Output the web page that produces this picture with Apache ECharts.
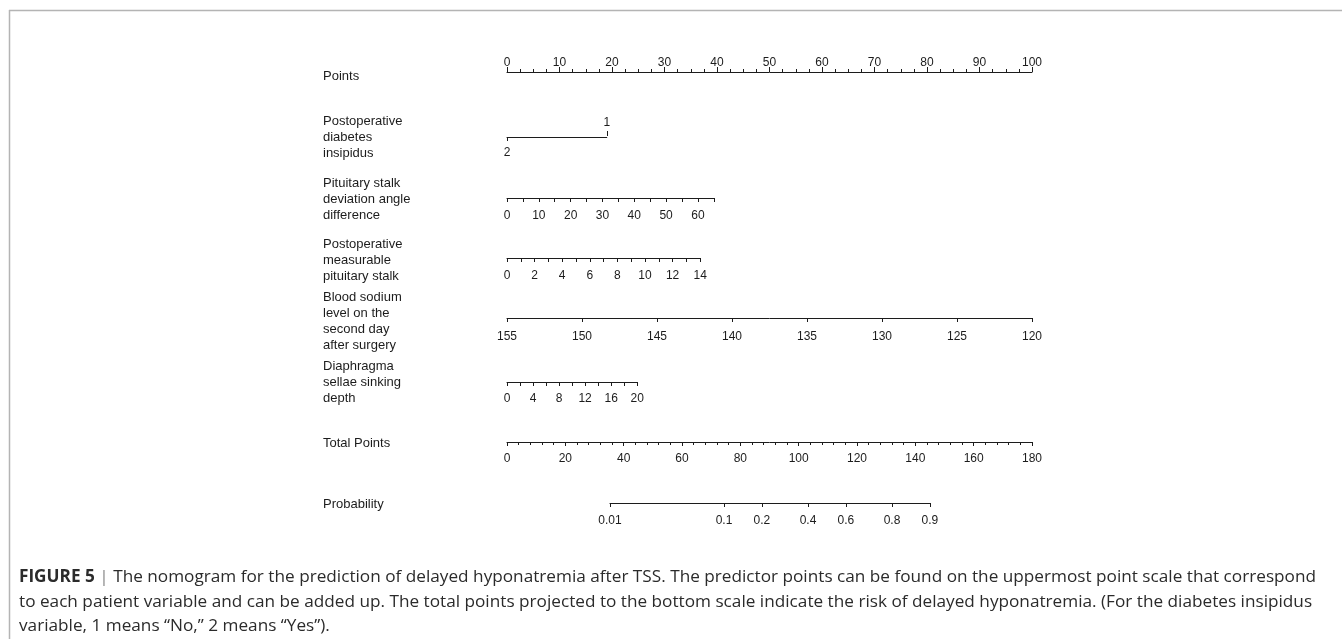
<!DOCTYPE html>
<html>
<head>
<meta charset="utf-8">
<script src="https://cdn.jsdelivr.net/npm/echarts@6/dist/echarts.min.js"></script>
<style>
html,body{margin:0;padding:0;background:#fff;}
#c{width:1342px;height:639px;}
</style>
</head>
<body>
<div id="c"></div>
<script>
// ---------------- data ----------------
const rowLabels = [
  'Points',
  'Postoperative\ndiabetes\ninsipidus',
  'Pituitary stalk\ndeviation angle\ndifference',
  'Postoperative\nmeasurable\npituitary stalk',
  'Blood sodium\nlevel on the\nsecond day\nafter surgery',
  'Diaphragma\nsellae sinking\ndepth',
  'Total Points',
  'Probability'
];

const pointsTicks = [0, 10, 20, 30, 40, 50, 60, 70, 80, 90, 100];

const diLevels = [2, 1];          // level at 0 points, level at max points
const diPoints = [0, 19];

const angleRange = [0, 65];
const anglePoints = [0, 39.4];
const angleTicks = [0, 5, 10, 15, 20, 25, 30, 35, 40, 45, 50, 55, 60, 65];
const angleLabels = [0, 10, 20, 30, 40, 50, 60];

const stalkRange = [0, 14];
const stalkPoints = [0, 36.8];
const stalkTicks = [0, 1, 2, 3, 4, 5, 6, 7, 8, 9, 10, 11, 12, 13, 14];
const stalkLabels = [0, 2, 4, 6, 8, 10, 12, 14];

const sodiumRange = [155, 120];
const sodiumPoints = [0, 100];
const sodiumTicks = [155, 150, 145, 140, 135, 130, 125, 120];

const depthRange = [0, 20];
const depthPoints = [0, 24.8];
const depthTicks = [0, 2, 4, 6, 8, 10, 12, 14, 16, 18, 20];
const depthLabels = [0, 4, 8, 12, 16, 20];

const totalRange = [0, 180];
const totalTicks = [0, 20, 40, 60, 80, 100, 120, 140, 160, 180];

const probLabels = ['0.01', '0.1', '0.2', '0.4', '0.6', '0.8', '0.9'];
const probTotalPoints = [35.3, 74.4, 87.4, 103.2, 116.2, 132.0, 145.0];

const captionLines = [
  '{b|FIGURE 5} {s||} The nomogram for the prediction of delayed hyponatremia after TSS. The predictor points can be found on the uppermost point scale that correspond',
  'to each patient variable and can be added up. The total points projected to the bottom scale indicate the risk of delayed hyponatremia. (For the diabetes insipidus',
  'variable, 1 means \u201cNo,\u201d 2 means \u201cYes\u201d).'
];

// ---------------- layout ----------------
const X0 = 507, X1 = 1032;                       // pixel span of the Points scale
const ptsToPx = p => X0 + (X1 - X0) * p / 100;
const totToPx = t => X0 + (X1 - X0) * t / totalRange[1];
const lineY = [72, 137, 198, 258, 318, 382, 442, 503];
const labelY = [76, 121, 183, 244, 297, 366, 443, 504];
const INK = '#1c1c1c';
const FONT = '"Liberation Sans", Arial, Helvetica, sans-serif';
const CAP_FONT = '"Open Sans", "Liberation Sans", Arial, sans-serif';

function merge(a, b) {
  const out = Array.isArray(a) ? a.slice() : Object.assign({}, a);
  for (const k in b) {
    const v = b[k];
    if (v && typeof v === 'object' && !Array.isArray(v) && a[k] && typeof a[k] === 'object') out[k] = merge(a[k], v);
    else out[k] = v;
  }
  return out;
}

const grids = [], xAxes = [], yAxes = [];
function addGrid(x0, x1, y, pos) {
  grids.push({left: x0, width: x1 - x0, top: pos === 'top' ? y : y - 1, height: 1,
              outerBoundsMode: 'none', containLabel: false, show: false});
  yAxes.push({type: 'value', gridIndex: grids.length - 1, show: false, min: 0, max: 1});
  return grids.length - 1;
}
function addAxis(gi, o) {
  const base = {
    type: 'value', gridIndex: gi, position: 'bottom',
    axisLine: {show: true, onZero: false, lineStyle: {color: INK, width: 1}},
    axisTick: {show: true, inside: false, length: 4, lineStyle: {color: INK, width: 1}},
    axisLabel: {show: true, color: INK, fontSize: 12, fontFamily: FONT, margin: 12, hideOverlap: false},
    splitLine: {show: false}, minorSplitLine: {show: false}
  };
  xAxes.push(merge(base, o));
}

// Points
let g = addGrid(ptsToPx(0), ptsToPx(100), lineY[0], 'top');
addAxis(g, {position: 'top', min: pointsTicks[0], max: pointsTicks[pointsTicks.length - 1], interval: 10,
  axisTick: {length: 5, customValues: pointsTicks},
  axisLabel: {margin: 3, customValues: pointsTicks},
  minorTick: {show: true, splitNumber: 4, length: 3, lineStyle: {color: INK, width: 1}}});

// Postoperative diabetes insipidus
g = addGrid(ptsToPx(diPoints[0]), ptsToPx(diPoints[1]), lineY[1], 'bottom');
addAxis(g, {min: 1, max: 2, inverse: true,
  axisTick: {customValues: [diLevels[0]]},
  axisLabel: {customValues: [diLevels[0]], margin: 10}});
addAxis(g, {position: 'top', min: 1, max: 2, inverse: true,
  axisLine: {show: false},
  axisTick: {customValues: [diLevels[1]], length: 5},
  axisLabel: {customValues: [diLevels[1]], margin: 7}});

// Pituitary stalk deviation angle difference
g = addGrid(ptsToPx(anglePoints[0]), ptsToPx(anglePoints[1]), lineY[2], 'bottom');
addAxis(g, {min: angleRange[0], max: angleRange[1],
  axisTick: {customValues: angleTicks}, axisLabel: {customValues: angleLabels, margin: 12}});

// Postoperative measurable pituitary stalk
g = addGrid(ptsToPx(stalkPoints[0]), ptsToPx(stalkPoints[1]), lineY[3], 'bottom');
addAxis(g, {min: stalkRange[0], max: stalkRange[1],
  axisTick: {customValues: stalkTicks}, axisLabel: {customValues: stalkLabels, margin: 12}});

// Blood sodium
g = addGrid(ptsToPx(sodiumPoints[0]), ptsToPx(sodiumPoints[1]), lineY[4], 'bottom');
addAxis(g, {min: sodiumRange[1], max: sodiumRange[0], inverse: true,
  axisTick: {customValues: sodiumTicks}, axisLabel: {customValues: sodiumTicks, margin: 13}});

// Diaphragma sellae sinking depth
g = addGrid(ptsToPx(depthPoints[0]), ptsToPx(depthPoints[1]), lineY[5], 'bottom');
addAxis(g, {min: depthRange[0], max: depthRange[1],
  axisTick: {customValues: depthTicks}, axisLabel: {customValues: depthLabels, margin: 10.5}});

// Total Points
g = addGrid(totToPx(totalRange[0]), totToPx(totalRange[1]), lineY[6], 'bottom');
addAxis(g, {min: totalRange[0], max: totalRange[1], interval: 20,
  axisTick: {customValues: totalTicks},
  axisLabel: {customValues: totalTicks, margin: 10.5},
  minorTick: {show: true, splitNumber: 5, length: 3, lineStyle: {color: INK, width: 1}}});

// Probability
g = addGrid(totToPx(probTotalPoints[0]), totToPx(probTotalPoints[probTotalPoints.length - 1]), lineY[7], 'bottom');
addAxis(g, {min: probTotalPoints[0], max: probTotalPoints[probTotalPoints.length - 1],
  axisTick: {customValues: probTotalPoints},
  axisLabel: {customValues: probTotalPoints, margin: 11.5,
    formatter: v => {
      let best = 0;
      probTotalPoints.forEach((p, i) => { if (Math.abs(p - v) < Math.abs(probTotalPoints[best] - v)) best = i; });
      return probLabels[best];
    }}});

// Row labels and frame / caption
const graphics = [
  {type: 'line', silent: true, shape: {x1: 9, y1: 10.5, x2: 1342, y2: 10.5}, style: {stroke: '#b4b4b4', lineWidth: 1.5}},
  {type: 'line', silent: true, shape: {x1: 9.5, y1: 10, x2: 9.5, y2: 639}, style: {stroke: '#b4b4b4', lineWidth: 1.5}}
];
rowLabels.forEach((t, i) => {
  graphics.push({type: 'text', silent: true, x: 323, y: labelY[i] - 8,
    style: {text: t, font: '13px ' + FONT, fill: INK, lineHeight: 16, verticalAlign: 'top', align: 'left'}});
});
graphics.push({type: 'text', silent: true, x: 19, y: 565,
  style: {text: captionLines.join('\n'), font: '17.2px ' + CAP_FONT, fill: '#2b2b2b', lineHeight: 24.5,
    verticalAlign: 'top', align: 'left',
    rich: {b: {fontWeight: 'bold', fontSize: 17.2, fontFamily: CAP_FONT, fill: '#2b2b2b'},
           s: {fontSize: 17.2, fontFamily: CAP_FONT, fill: '#888'}}}});

const chart = echarts.init(document.getElementById('c'), null, {renderer: 'canvas'});
chart.setOption({
  animation: false,
  backgroundColor: '#ffffff',
  grid: grids,
  xAxis: xAxes,
  yAxis: yAxes,
  series: [],
  graphic: graphics
});
</script>
</body>
</html>
